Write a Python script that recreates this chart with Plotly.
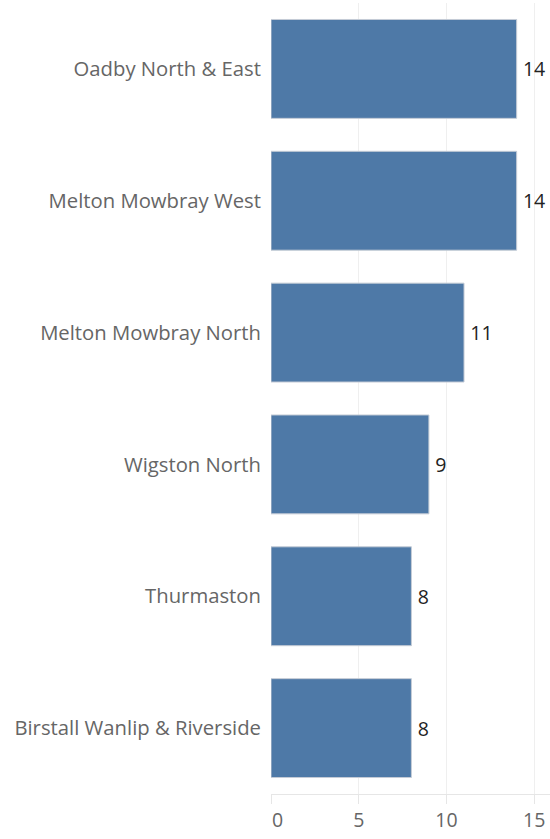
import plotly.graph_objects as go

categories = ["Oadby North & East", "Melton Mowbray West", "Melton Mowbray North",
              "Wigston North", "Thurmaston", "Birstall Wanlip & Riverside"]
values = [14, 14, 11, 9, 8, 8]
tick_vals = [0, 5, 10, 15]
tick_text = ["\u2009\u2009\u2009\u20090", "5", "10", "15"]

FONT = "Open Sans"

fig = go.Figure(go.Bar(
    x=values, y=categories, orientation="h",
    marker=dict(color="#4e79a7", line=dict(color="#c5ccd6", width=1)),
    width=0.75,
    text=["\u2009" + str(v) for v in values], textposition="outside",
    textfont=dict(family=FONT, size=19.5, color="#222222"),
    cliponaxis=False,
    hoverinfo="skip",
))

fig.update_layout(
    width=550, height=839,
    margin=dict(l=271, r=0, t=3, b=45),
    paper_bgcolor="white", plot_bgcolor="white",
    showlegend=False,
    font=dict(family=FONT, size=20, color="#666666"),
    xaxis=dict(range=[0, 15.9], tickvals=tick_vals, ticktext=tick_text,
               showgrid=True, gridcolor="#efefef", gridwidth=1,
               zeroline=False, showline=True, linecolor="#e6e6e6",
               ticks="outside", ticklen=9, tickcolor="#e6e6e6",
               tickfont=dict(family=FONT, size=19.5, color="#666666")),
    yaxis=dict(autorange="reversed", showgrid=False, zeroline=False,
               showline=False, ticks="", ticklabelstandoff=9,
               tickfont=dict(family=FONT, size=20.3, color="#666666")),
)

fig.write_html("out.html", config={"displayModeBar": False},
               post_script="document.body.style.margin='0';document.body.style.overflow='hidden';")
